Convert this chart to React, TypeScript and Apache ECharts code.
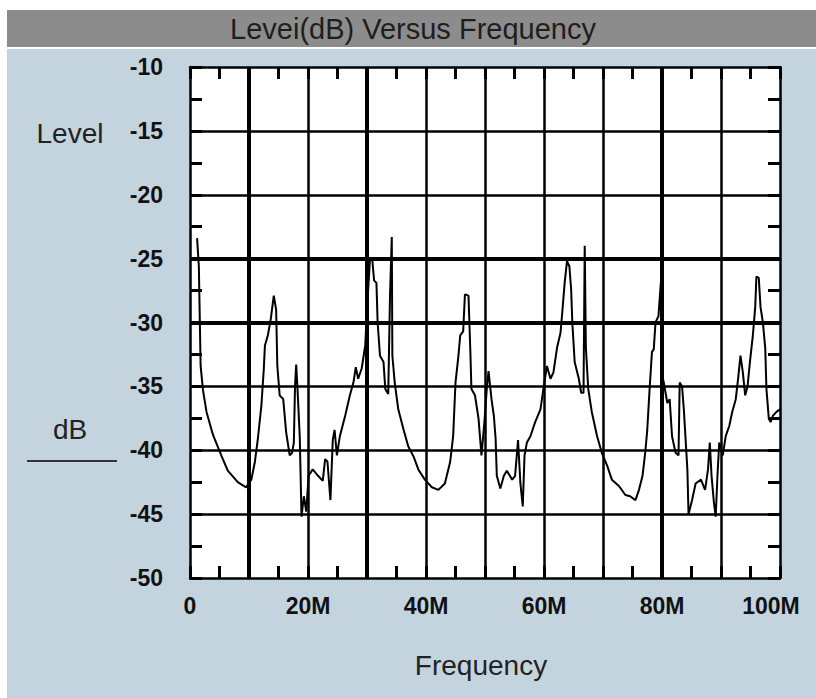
import React, { useEffect, useRef } from "react";
import * as echarts from "echarts";

const freqMHz = [
  1.2, 1.5, 1.8, 2.2, 2.8, 3.9, 5.3, 6.4, 8.1, 9.5, 10.4, 11.0, 11.5, 12.1, 12.5, 12.7, 13.2, 13.7, 14.2, 14.6,
  14.8, 15.2, 15.8, 16.3, 16.9, 17.3, 17.6, 17.8, 18.0, 18.2, 18.6, 18.9, 19.3, 19.7, 20.1, 20.8, 21.7, 22.5, 22.9, 23.3,
  23.8, 24.2, 24.5, 24.9, 25.4, 26.3, 27.1, 27.7, 28.1, 28.5, 29.1, 29.7, 29.9, 30.2, 30.5, 30.9, 31.2, 31.6, 31.8, 32.2,
  32.8, 33.1, 33.6, 33.9, 34.2, 34.3, 34.7, 35.3, 36.2, 37.0, 37.9, 38.7, 39.8, 41.0, 42.1, 43.2, 44.1, 44.6, 45.0, 45.5,
  45.8, 46.3, 46.6, 47.2, 47.5, 47.7, 48.3, 48.9, 49.4, 49.9, 50.3, 50.6, 51.1, 51.5, 51.8, 52.0, 52.6, 53.2, 53.7, 54.6,
  55.1, 55.6, 56.0, 56.4, 56.7, 57.1, 57.7, 58.5, 59.4, 59.9, 60.5, 61.1, 61.6, 62.2, 62.8, 63.1, 63.5, 63.9, 64.3, 64.6,
  64.8, 65.2, 65.9, 66.3, 66.7, 66.9, 67.1, 67.5, 68.1, 69.0, 69.8, 70.7, 71.5, 72.7, 73.8, 74.6, 75.5, 76.1, 76.7, 77.2,
  77.5, 77.9, 78.3, 78.6, 78.9, 79.4, 79.8, 79.9, 80.3, 80.9, 81.3, 81.7, 82.3, 82.8, 83.0, 83.4, 83.7, 84.3, 84.5, 85.1,
  85.7, 86.6, 87.3, 87.8, 88.1, 88.4, 88.8, 89.1, 89.4, 89.7, 90.3, 90.8, 91.4, 91.9, 92.5, 92.9, 93.3, 93.7, 94.1, 94.5,
  94.9, 95.4, 95.8, 96.0, 96.4, 96.7, 97.1, 97.5, 97.7, 98.1, 98.4, 98.8, 99.4, 100.0,
];

const levelDb = [
  -23.4, -25.6, -33.4, -35.3, -37.0, -38.8, -40.4, -41.6, -42.5, -42.9, -42.3, -40.9, -39.1, -36.5, -33.7, -31.8, -31.0, -29.7, -27.9, -29.0,
  -33.4, -35.7, -36.0, -38.6, -40.4, -40.2, -39.4, -35.0, -33.3, -35.0, -38.9, -45.2, -43.6, -44.8, -42.0, -41.5, -42.0, -42.4, -40.7, -40.9,
  -43.9, -39.2, -38.4, -40.4, -38.9, -37.3, -35.7, -34.7, -33.5, -34.4, -33.6, -31.8, -30.0, -27.4, -25.1, -25.1, -26.7, -26.9, -30.0, -32.6,
  -33.1, -35.2, -35.6, -27.9, -23.3, -32.6, -34.7, -36.8, -38.4, -39.7, -40.5, -41.5, -42.3, -42.9, -43.1, -42.6, -40.9, -38.9, -34.7, -32.6,
  -31.0, -30.7, -27.8, -27.9, -32.0, -35.2, -35.7, -37.5, -40.4, -37.8, -35.2, -33.8, -36.0, -37.3, -39.1, -42.0, -43.0, -42.0, -41.6, -42.3,
  -42.0, -39.2, -42.6, -44.4, -40.4, -39.4, -38.9, -37.8, -36.8, -35.2, -33.4, -34.4, -33.9, -32.0, -30.8, -29.2, -26.9, -25.2, -25.6, -27.4,
  -30.0, -33.1, -34.4, -35.5, -35.5, -24.0, -32.0, -35.2, -37.0, -38.9, -40.2, -41.2, -42.3, -42.8, -43.5, -43.6, -43.9, -43.1, -42.0, -40.0,
  -38.4, -35.2, -32.3, -32.1, -30.0, -29.5, -26.9, -33.9, -34.7, -36.3, -36.0, -38.9, -40.2, -40.4, -34.7, -35.0, -36.8, -41.5, -45.0, -43.9,
  -42.6, -42.3, -43.1, -41.5, -39.4, -42.0, -44.1, -45.2, -42.0, -39.4, -40.4, -38.9, -38.1, -37.0, -36.0, -34.4, -32.6, -33.9, -35.7, -35.0,
  -33.1, -31.0, -28.8, -26.4, -26.5, -28.8, -30.0, -32.0, -35.2, -37.5, -37.8, -37.3, -37.0, -36.8,
];

const xTickLabels: Record<number, string> = { 0: "0", 20: "20M", 40: "40M", 60: "60M", 80: "80M", 100: "100M" };
const freqGridLines = [10, 20, 30, 40, 50, 60, 70, 80, 90];
const levelGridLines = [-15, -20, -25, -30, -35, -40, -45];
const heavyFreqLines = [10, 30, 80];
const heavyLevelLines = [-25, -30];

const titleText = "Levei(dB) Versus Frequency";
const yNameTop = "Level";
const yNameBottom = "dB";
const xName = "Frequency";

const FONT = "'Liberation Sans', Arial, Helvetica, sans-serif";

export default function App() {
  const ref = useRef<HTMLDivElement>(null);
  useEffect(() => {
    if (!ref.current) return;
    const chart = echarts.init(ref.current, undefined, { renderer: "svg" });
    const lineW = 2.5;
    const tick = { show: true, inside: true, length: 12, lineStyle: { color: "#000", width: 3 } };
    const axisLine = { show: true, onZero: false, lineStyle: { color: "#000", width: lineW } };
    const labelFont = { fontSize: 23, fontWeight: "bold" as const, fontFamily: FONT, color: "#111" };
    const gridLineData = [
      ...freqGridLines.map((x) => ({
        xAxis: x,
        lineStyle: { color: "#000", type: "solid", width: heavyFreqLines.includes(x) ? 4 : lineW },
      })),
      ...levelGridLines.map((y) => ({
        yAxis: y,
        lineStyle: { color: "#000", type: "solid", width: heavyLevelLines.includes(y) ? 4 : lineW },
      })),
    ];
    chart.setOption({
      animation: false,
      backgroundColor: "transparent",
      grid: { left: 190, top: 67, width: 590, height: 511, show: true, backgroundColor: "#ffffff", borderWidth: 0 },
      xAxis: [
        {
          type: "value", min: 0, max: 100, interval: 5, position: "bottom",
          axisLine, axisTick: tick, splitLine: { show: false },
          axisLabel: {
            ...labelFont, margin: 16,
            formatter: (v: number) => {
              const t = xTickLabels[Math.round(v)];
              if (!t || Math.abs(v - Math.round(v)) > 1e-6) return "";
              return Math.round(v) === 100 ? "{r|" + t + "}" : t;
            },
            rich: { r: { ...labelFont, padding: [0, 18, 0, 0] } },
          },
        },
        {
          type: "value", min: 0, max: 100, interval: 5, position: "top",
          axisLine, axisTick: tick, splitLine: { show: false }, axisLabel: { show: false },
        },
      ],
      yAxis: [
        {
          type: "value", min: -50, max: -10, interval: 2.5, position: "left",
          axisLine, axisTick: tick, splitLine: { show: false },
          axisLabel: {
            ...labelFont, margin: 27,
            formatter: (v: number) => (Math.abs(v / 5 - Math.round(v / 5)) < 1e-6 ? String(Math.round(v)) : ""),
          },
        },
        {
          type: "value", min: -50, max: -10, interval: 2.5, position: "right",
          axisLine, axisTick: tick, splitLine: { show: false }, axisLabel: { show: false },
        },
      ],
      graphic: [
        { type: "rect", z: -10, shape: { x: 7, y: 10, width: 809, height: 37 }, style: { fill: "#8c8c8c" } },
        { type: "rect", z: -10, shape: { x: 7, y: 49, width: 809, height: 649 }, style: { fill: "#c4d4de" } },
        {
          type: "text", z: 10, x: 413, y: 29,
          style: { text: titleText, font: `29px ${FONT}`, fill: "#1e1e1e", align: "center", verticalAlign: "middle" },
        },
        {
          type: "text", z: 10, x: 70, y: 133,
          style: { text: yNameTop, font: `28px ${FONT}`, fill: "#222", align: "center", verticalAlign: "middle" },
        },
        {
          type: "text", z: 10, x: 70, y: 429,
          style: { text: yNameBottom, font: `28px ${FONT}`, fill: "#222", align: "center", verticalAlign: "middle" },
        },
        { type: "line", z: 10, shape: { x1: 27, y1: 461, x2: 117, y2: 461 }, style: { stroke: "#333", lineWidth: 2 } },
        {
          type: "text", z: 10, x: 481, y: 665,
          style: { text: xName, font: `28px ${FONT}`, fill: "#222", align: "center", verticalAlign: "middle" },
        },
      ],
      series: [
        {
          type: "line",
          xAxisIndex: 0, yAxisIndex: 0,
          data: freqMHz.map((f, i) => [f, levelDb[i]]),
          showSymbol: false,
          lineStyle: { color: "#000", width: 2 },
          markLine: {
            silent: true, symbol: "none", label: { show: false },
            data: gridLineData,
          },
        },
      ],
    });
    return () => chart.dispose();
  }, []);
  return <div ref={ref} style={{ position: "absolute", left: 0, top: 0, width: 816, height: 698 }} />;
}
